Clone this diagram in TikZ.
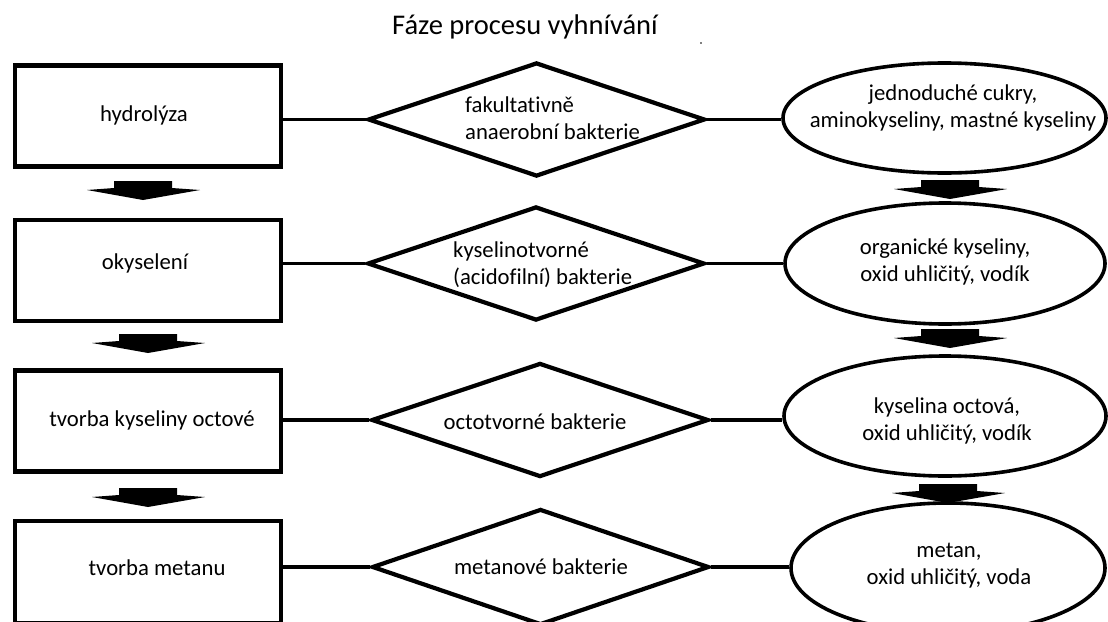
\documentclass[tikz,border=0pt]{standalone}
\usepackage{fontspec}
\setmainfont[Ligatures={NoCommon}]{Carlito}
\usetikzlibrary{shapes.geometric}
\tikzset{
  box/.style={draw, line width=4.2pt, minimum width=266pt, minimum height=101pt, inner sep=0pt},
  dia/.style={draw, diamond, line width=4.2pt, minimum width=337pt, minimum height=114pt, inner sep=0pt},
  ell/.style={draw, ellipse, line width=3.6pt, inner sep=0pt},
  lbl/.style={font=\fontsize{22.7}{27}\selectfont, inner sep=0pt, align=center},
  conn/.style={line width=3.8pt},
  blk/.pic={\fill (-29,-19) -- (29,-19) -- (29,-12) -- (57,-10) -- (0,0) -- (-56,-10) -- (-29,-12) -- cycle;}
}
\begin{document}
\begin{tikzpicture}[x=1pt,y=-1pt]
\useasboundingbox (0,0) rectangle (1108,621);
\clip (0,0) rectangle (1108,621);
\fill[white] (0,0) rectangle (1108,621);

% title
\node[font=\fontsize{28.5}{34}\selectfont, inner sep=0pt] (title) at (525,27) {Fáze procesu vyhnívání};
\fill[gray] (700,42) rectangle (702,44);

% phase boxes
\node[box] (r1) at (148,116) {};
\node[box] (r2) at (148,270.5) {};
\node[box] (r3) at (148,421) {};
\node[box, minimum height=102pt] (r4) at (148,572) {};

% diamonds
\node[dia] (d1) at (536.5,119.5) {};
\node[dia] (d2) at (536,263.5) {};
\node[dia] (d3) at (540,420) {};
\node[dia, minimum height=116pt] (d4) at (540.5,567) {};

% ellipses
\node[ell, minimum width=323pt, minimum height=110pt] (e1) at (944.5,118) {};
\node[ell, minimum width=320pt, minimum height=121pt] (e2) at (945,263.5) {};
\node[ell, minimum width=322pt, minimum height=120pt] (e3) at (945,416) {};
\node[ell, minimum width=314pt, minimum height=130pt] (e4) at (948,568) {};

% connectors
\foreach \i in {1,2,3,4}{
  \draw[conn] (d\i.west) -- (d\i.west -| r\i.east);
  \draw[conn] (d\i.east) -- (d\i.east -| e\i.west);
}

% block arrows
\pic at (143,200) {blk};
\pic at (148,353) {blk};
\pic at (148,507) {blk};
\pic at (950,199) {blk};
\pic at (950,348) {blk};
\pic at (948,503) {blk};

% texts
\node[lbl] (t1) at (144,115) {hydrolýza};
\node[lbl] (t2) at (145,263) {okyselení};
\node[lbl] (t3) at (152,420) {tvorba kyseliny octové};
\node[lbl] (t4) at (157,568) {tvorba metanu};
\node[lbl, align=left, anchor=west] (u1) at (465,118) {fakultativně\\anaerobní bakterie};
\node[lbl, align=left, anchor=west] (u2) at (453,265) {kyselinotvorné\\(acidofilní) bakterie};
\node[lbl] (u3) at (535,422) {octotvorné bakterie};
\node[lbl] (u4) at (541,567) {metanové bakterie};
\node[lbl] (v1) at (953,108) {jednoduché cukry,\\aminokyseliny, mastné kyseliny};
\node[lbl] (v2) at (945,262) {organické kyseliny,\\oxid uhličitý, vodík};
\node[lbl] (v3) at (947,421) {kyselina octová,\\oxid uhličitý, vodík};
\node[lbl] (v4) at (949,566) {metan,\\oxid uhličitý, voda};
\end{tikzpicture}
\end{document}
